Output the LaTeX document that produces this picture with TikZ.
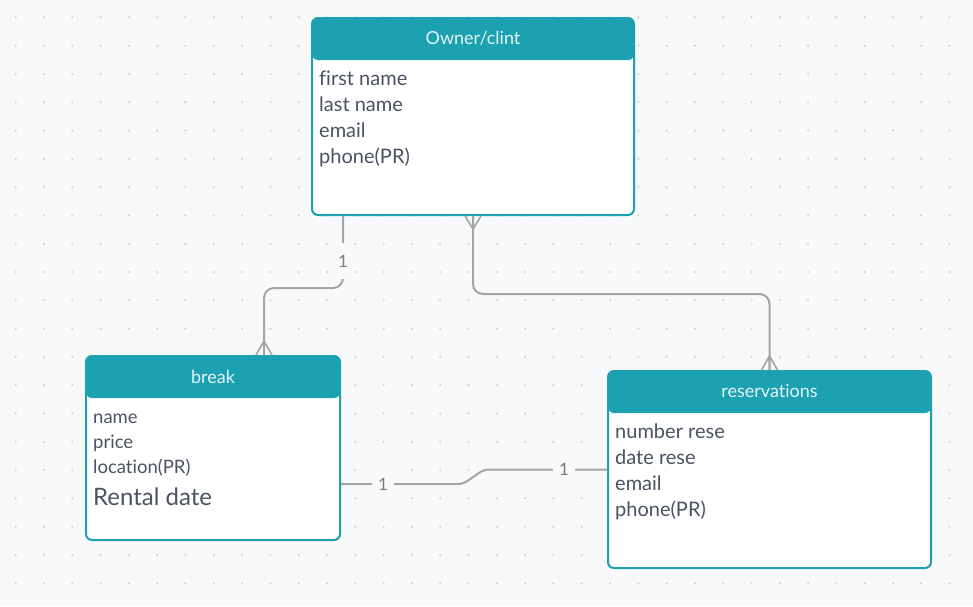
\documentclass[tikz,border=0pt]{standalone}
\usepackage{fontspec}
\setmainfont{Lato}[Ligatures=CommonOff]
\usetikzlibrary{positioning,calc}

\definecolor{tealc}{HTML}{1BA1B0}
\definecolor{canvas}{HTML}{F8F9FB}
\definecolor{dotc}{HTML}{D3D7DD}
\definecolor{linec}{HTML}{A4A4A4}
\definecolor{txtc}{HTML}{4B5262}
\definecolor{headtxt}{HTML}{E6F5F7}

\tikzset{
  entity/.style={draw=tealc, line width=2pt, fill=white, rounded corners=6pt, inner sep=0pt,
    path picture={\fill[tealc] (path picture bounding box.north west) rectangle ([yshift=-42pt]path picture bounding box.north east);}},
  title/.style={text=headtxt, font=\fontsize{18}{20}\selectfont},
  attrs/.style={text=txtc, align=left, anchor=base west, inner sep=0pt, font=\fontsize{20}{26}\selectfont},
  rel/.style={draw=linec, line width=2pt, rounded corners=10pt},
  foot/.style={draw=linec, line width=1.6pt},
  card/.style={fill=canvas, text=linec!75!black, inner xsep=6pt, inner ysep=12pt, font=\fontsize{17}{17}\selectfont},
}

\begin{document}
\begin{tikzpicture}[x=1pt, y=-1pt]
    \useasboundingbox (0,0) rectangle (973,606);
    \fill[canvas] (0,0) rectangle (973,606);
    \foreach \i in {0,...,34}
        \foreach \j in {0,...,21}
            \fill[dotc] (15.7+28.3*\i, 17.3+28.3*\j) circle (1.3);

    % entities
    \node[entity, minimum width=322, minimum height=197] (owner) at (473,116.5) {};
    \node[entity, minimum width=254, minimum height=184] (break) at (213,448) {};
    \node[entity, minimum width=323, minimum height=197] (res) at (769.5,469.5) {};

    \node[title] (owner title) at ([yshift=-21pt]owner.north) {Owner/clint};
    \node[title] (break title) at ([yshift=-22pt]break.north) {break};
    \node[title] (res title) at ([yshift=-21pt]res.north) {reservations};

    % attribute lists (base = baseline of the last line)
    \node[attrs] (owner attrs) at ([xshift=8pt, yshift=-146pt]owner.north west)
        {first name\\last name\\email\\phone(PR)};
    \node[attrs, font=\fontsize{18.5}{25}\selectfont] (break attrs) at ([xshift=8pt, yshift=-118pt]break.north west)
        {name\\price\\location(PR)};
    \node[attrs, font=\fontsize{24}{25}\selectfont] (break rental) at ([xshift=8pt, yshift=-150pt]break.north west)
        {Rental date};
    \node[attrs] (res attrs) at ([xshift=8pt, yshift=-146pt]res.north west)
        {number rese\\date rese\\email\\phone(PR)};

    % owner -- break
    \coordinate (o out) at ([xshift=32pt]owner.south west);
    \coordinate (b in) at ([xshift=51pt]break.north);
    \draw[rel] (o out) -- ++(0,72) -| (b in);
    \node[card] (c1) at ($(o out)+(0,45)$) {1};
    \draw[foot] ([yshift=14pt]b in) -- ([xshift=-8pt]b in)
                ([yshift=14pt]b in) -- (b in)
                ([yshift=14pt]b in) -- ([xshift=8pt]b in);

    % owner -- reservations
    \draw[rel] (owner.south) -- ++(0,78) -| (res.north);
    \draw[foot] ([yshift=-13pt]owner.south) -- ([xshift=-8pt]owner.south)
                ([yshift=-13pt]owner.south) -- (owner.south)
                ([yshift=-13pt]owner.south) -- ([xshift=8pt]owner.south);
    \draw[foot] ([yshift=14pt]res.north) -- ([xshift=-8pt]res.north)
                ([yshift=14pt]res.north) -- (res.north)
                ([yshift=14pt]res.north) -- ([xshift=8pt]res.north);

    % break -- reservations
    \coordinate (b out) at ([yshift=-36pt]break.east);
    \draw[rel, rounded corners=5pt] (b out) -- ++(122,0) -- ($(res.west)+(-123,0)$) -- (res.west);
    \node[card] (c2) at ($(b out)+(42,0)$) {1};
    \node[card] (c3) at ($(res.west)+(-43,0)$) {1};
\end{tikzpicture}
\end{document}
